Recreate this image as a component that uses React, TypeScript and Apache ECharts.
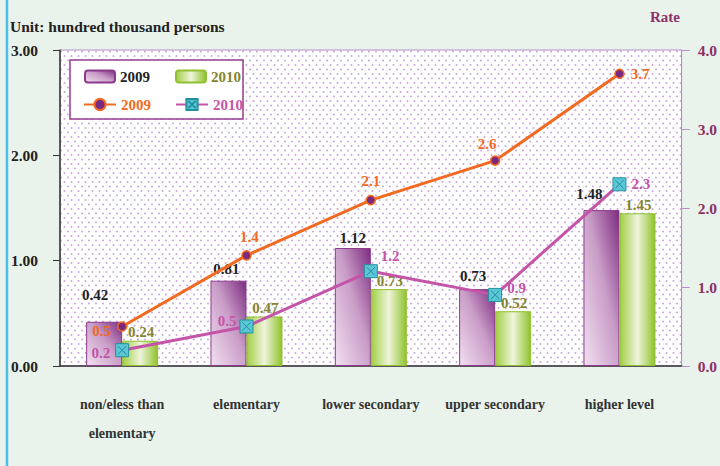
import React, { useEffect, useRef } from "react";
import * as echarts from "echarts";

const categories = [
  "non/eless than\nelementary",
  "elementary",
  "lower secondary",
  "upper secondary",
  "higher level",
];
const persons2009 = [0.42, 0.81, 1.12, 0.73, 1.48];
const persons2010 = [0.24, 0.47, 0.73, 0.52, 1.45];
const rate2009 = [0.5, 1.4, 2.1, 2.6, 3.7];
const rate2010 = [0.2, 0.5, 1.2, 0.9, 2.3];

// label placement styles (kept separate from data)
const bar2009LabelDist = [19, 4, 3, 6, 9];
const bar2009LabelShift = [-9, -2, 0, -4, -12];
const rate2009LabelPos = ["left", "top", "top", "top", "right"];
const rate2009LabelOff = [[0, 4], [3, 0], [0, 0], [-8, 2], [0, 0]];
const rate2010LabelPos = ["left", "left", "right", "right", "right"];
const rate2010LabelOff = [[0, 3], [2, -6], [-2, -15], [0, -7], [0, 0]];

const FONT = "Liberation Serif";

function makeDots(): string {
  const c = document.createElement("canvas");
  c.width = 7;
  c.height = 9;
  const ctx = c.getContext("2d");
  if (!ctx) return "";
  ctx.fillStyle = "#ffffff";
  ctx.fillRect(0, 0, 7, 9);
  ctx.fillStyle = "#c8a6da";
  ctx.beginPath();
  ctx.arc(1.5, 2, 1.0, 0, Math.PI * 2);
  ctx.fill();
  ctx.beginPath();
  ctx.arc(5, 6.5, 1.0, 0, Math.PI * 2);
  ctx.fill();
  return c.toDataURL();
}

export default function App() {
  const ref = useRef<HTMLDivElement>(null);
  useEffect(() => {
    if (!ref.current) return;
    const chart = echarts.init(ref.current, null, { renderer: "svg" });
    const dots = makeDots();
    const purpleGrad = new echarts.graphic.LinearGradient(0, 1, 1, 0, [
      { offset: 0, color: "#f2e0f0" },
      { offset: 0.55, color: "#c99cc7" },
      { offset: 1, color: "#7d2c80" },
    ]);
    const greenGrad = new echarts.graphic.LinearGradient(0, 0, 1, 0, [
      { offset: 0, color: "#a2ce44" },
      { offset: 0.5, color: "#eff5dc" },
      { offset: 1, color: "#8fc22c" },
    ]);
    const xSymbol =
      "path://M0,0H10V10H0Z M1.8,1.8L8.2,8.2 M8.2,1.8L1.8,8.2";
    const textBase = { fontFamily: FONT, fontWeight: "bold" as const, fontSize: 15 };

    const option: any = {
      animation: false,
      backgroundColor: "#eaf3eb",
      title: [
        {
          text: "Unit: hundred thousand persons",
          left: 10,
          top: 18,
          padding: 0,
          textStyle: { ...textBase, color: "#222", fontSize: 15.5 },
        },
        {
          text: "Rate",
          right: 40,
          top: 9,
          padding: 0,
          textStyle: { ...textBase, color: "#8e3068", fontSize: 15 },
        },
      ],
      graphic: [
        {
          type: "line",
          shape: { x1: 7, y1: 0, x2: 7, y2: 466 },
          style: { stroke: "#48c0ea", lineWidth: 2.5 },
          z: 10,
        },
        {
          type: "rect",
          shape: { x: 70, y: 60, width: 173, height: 59 },
          style: { fill: "#ffffff", stroke: "#973c8e", lineWidth: 1.5 },
          z: 5,
        },
      ],
      legend: [
        {
          left: 84,
          top: 69,
          padding: 0,
          itemWidth: 30,
          itemHeight: 12,
          itemGap: 25,
          z: 10,
          formatter: (n: string) => n.slice(-4),
          textStyle: { ...textBase },
          data: [
            { name: "Persons 2009", textStyle: { color: "#222" } },
            { name: "Persons 2010", textStyle: { color: "#858530" } },
          ],
        },
        {
          left: 83,
          top: 97,
          padding: 0,
          itemWidth: 32,
          itemHeight: 14,
          itemGap: 24,
          z: 10,
          formatter: (n: string) => n.slice(-4),
          textStyle: { ...textBase },
          data: [
            { name: "Rate 2009", textStyle: { color: "#f26a21" } },
            { name: "Rate 2010", textStyle: { color: "#c454a8" } },
          ],
        },
      ],
      grid: {
        left: 60,
        right: 38,
        top: 50,
        bottom: 100,
        show: true,
        backgroundColor: { image: dots, repeat: "repeat" },
        borderColor: "#b98ccb",
        borderWidth: 1,
      },
      xAxis: {
        type: "category",
        data: categories,
        axisLine: { lineStyle: { color: "#333", width: 1.5 } },
        axisTick: { length: 7, lineStyle: { color: "#333" } },
        axisLabel: {
          ...textBase,
          fontSize: 14,
          color: "#333",
          lineHeight: 29,
          margin: 24,
          interval: 0,
        },
      },
      yAxis: [
        {
          type: "value",
          min: 0,
          max: 3,
          interval: 1,
          splitLine: { show: false },
          axisLine: { show: true, lineStyle: { color: "#333", width: 1.5 } },
          axisTick: { show: true, length: 7, lineStyle: { color: "#333" } },
          axisLabel: {
            ...textBase,
            fontSize: 15.5,
            color: "#222",
            margin: 22,
            formatter: (v: number) => v.toFixed(2),
          },
        },
        {
          type: "value",
          min: 0,
          max: 4,
          interval: 1,
          position: "right",
          splitLine: { show: false },
          axisLine: { show: true, lineStyle: { color: "#b98ccb", width: 1 } },
          axisTick: { show: true, length: 8, lineStyle: { color: "#b98ccb" } },
          axisLabel: {
            ...textBase,
            fontSize: 15.5,
            color: "#8e3068",
            margin: 16,
            formatter: (v: number) => v.toFixed(1),
          },
        },
      ],
      series: [
        {
          name: "Persons 2009",
          type: "bar",
          barWidth: 36,
          barGap: "0%",
          itemStyle: { color: purpleGrad, borderColor: "#8c3a8c", borderWidth: 1 },
          data: persons2009.map((v, i) => ({
            value: v,
            label: { distance: bar2009LabelDist[i], offset: [bar2009LabelShift[i], 0] },
          })),
          label: {
            show: true,
            position: "top",
            ...textBase,
            color: "#222",
            formatter: (p: any) => p.value.toFixed(2),
          },
          z: 2,
        },
        {
          name: "Persons 2010",
          type: "bar",
          barWidth: 36,
          barGap: "0%",
          itemStyle: { color: greenGrad, borderColor: "#90c030", borderWidth: 1 },
          data: persons2010,
          label: {
            show: true,
            position: "top",
            distance: 1,
            offset: [1, 0],
            ...textBase,
            color: "#858530",
            formatter: (p: any) => p.value.toFixed(2),
          },
          z: 2,
        },
        {
          name: "Rate 2009",
          type: "line",
          yAxisIndex: 1,
          symbol: "circle",
          symbolSize: 9,
          lineStyle: { color: "#f26a21", width: 3 },
          itemStyle: { color: "#7a2a7e", borderColor: "#f26a21", borderWidth: 1.5 },
          data: rate2009.map((v, i) => ({
            value: v,
            label: { position: rate2009LabelPos[i], offset: rate2009LabelOff[i] },
          })),
          label: {
            show: true,
            distance: 6,
            ...textBase,
            color: "#f26a21",
          },
          z: 5,
        },
        {
          name: "Rate 2010",
          type: "line",
          yAxisIndex: 1,
          symbol: xSymbol,
          symbolSize: 13,
          lineStyle: { color: "#c454a8", width: 3 },
          itemStyle: { color: "#5ac6d6", borderColor: "#23909e", borderWidth: 1 },
          data: rate2010.map((v, i) => ({
            value: v,
            label: { position: rate2010LabelPos[i], offset: rate2010LabelOff[i] },
          })),
          label: {
            show: true,
            distance: 5,
            ...textBase,
            color: "#c454a8",
          },
          z: 5,
        },
      ],
    };
    chart.setOption(option);
    return () => chart.dispose();
  }, []);
  return (
    <div
      ref={ref}
      style={{ position: "fixed", left: 0, top: 0, width: 720, height: 466 }}
    />
  );
}
